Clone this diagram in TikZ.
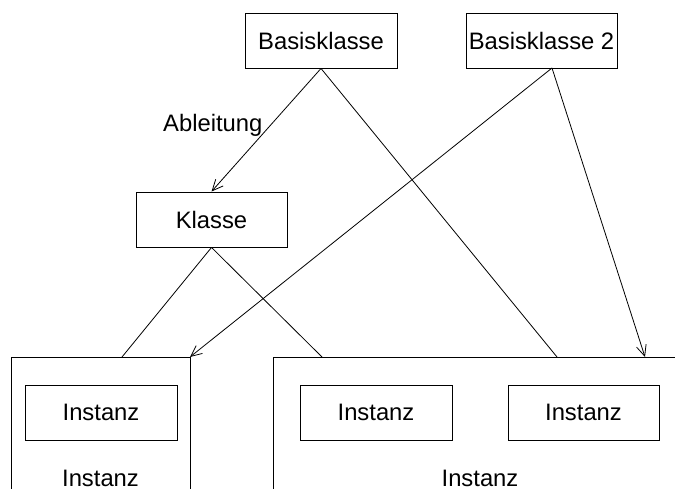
\documentclass[tikz,border=0pt]{standalone}
\usepackage{fontspec}
\setmainfont{Liberation Sans}
\usetikzlibrary{arrows.meta}
\begin{document}
\begin{tikzpicture}[x=1bp,y=-1bp,
  txt/.style={font=\fontsize{23.8bp}{28bp}\selectfont},
  box/.style={txt, draw, line width=0.9bp, inner sep=0pt, minimum height=55bp},
  frame/.style={draw, line width=0.9bp, inner sep=0pt, anchor=north west},
  lbl/.style={txt, inner sep=0pt},
  conn/.style={line width=0.8bp},
  arr/.style={conn, -{Straight Barb[length=11bp,width=10bp,line width=0.8bp]}}]
\useasboundingbox (0,0) rectangle (675,489);
\clip (0,0) rectangle (675,489);
% class boxes
\node[box, minimum width=152bp] (b1) at (321,40.5) {Basisklasse};
\node[box, minimum width=151bp] (b2) at (541.5,40.5) {Basisklasse 2};
\node[box, minimum width=151bp] (k) at (211.5,219.5) {Klasse};
% instance frames (cut off at the bottom / right)
\node[frame, minimum width=179bp, minimum height=190bp] (L) at (11,357) {};
\node[frame, minimum width=414bp, minimum height=190bp] (R) at (273,357) {};
\node[lbl, anchor=base] (Lt) at (100.5,486) {Instanz};
\node[lbl, anchor=base] (Rt) at (480,486) {Instanz};
% inner instance boxes
\node[box, minimum width=152bp] (i1) at (101,412.5) {Instanz};
\node[box, minimum width=152bp] (i2) at (376,412.5) {Instanz};
\node[box, minimum width=151bp] (i3) at (583.5,412.5) {Instanz};
% label
\node[lbl, anchor=base west] (abl) at (163,132) {Ableitung};
% connector end points
\coordinate (b2s) at (552,68);
\coordinate (Ltr) at (190,357);
\coordinate (Lk) at (122,357);
\coordinate (Rk) at (322,357);
\coordinate (Rb1) at (557,357);
\coordinate (Rb2) at (645,357);
% connectors
\draw[arr] (b1.south) -- (k.north);
\draw[conn] (b1.south) -- (Rb1);
\draw[arr] (b2s) -- (Ltr);
\draw[arr] (b2s) -- (Rb2);
\draw[conn] (k.south) -- (Lk);
\draw[conn] (k.south) -- (Rk);
\end{tikzpicture}
\end{document}
